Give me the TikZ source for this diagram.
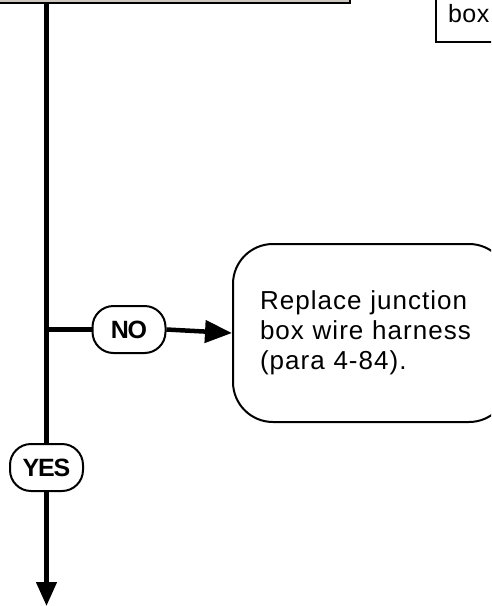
\documentclass[tikz,border=0pt]{standalone}
\usepackage{fontspec}
\setmainfont{Liberation Sans}
\usepackage{tikz}
\usetikzlibrary{arrows.meta}
\usetikzlibrary{positioning}

\definecolor{boxgray}{RGB}{204,200,192}

\begin{document}
\begin{tikzpicture}[
    x=1pt, y=-1pt,
    flow/.style={line width=4.5pt}, % Style for the main flow lines
    graybox/.style={draw, line width=2pt, fill=boxgray}, % Style for the step box above
    plainbox/.style={draw, line width=2pt, fill=white, align=left, font=\fontsize{25pt}{30pt}\selectfont\addfontfeature{LetterSpace=2}}, % Style for the box at the top right
    actbox/.style={draw, line width=2pt, fill=white, rounded corners=40pt, align=left,
        font=\fontsize{26pt}{30pt}\selectfont\addfontfeature{LetterSpace=4}}, % Style for the action box
    pill/.style={draw, line width=2pt, fill=white, rounded corners=21pt, minimum width=73pt,
        minimum height=47pt, inner sep=0pt, font=\fontsize{25pt}{28pt}\selectfont\bfseries\addfontfeature{LetterSpace=-5}} % Style for YES and NO
]

% Picture size
\useasboundingbox (0,0) rectangle (491,606);
\clip (0,0) rectangle (491,606);

% Boxes cut off at the top
\node[graybox, anchor=south east, minimum width=400pt, minimum height=60pt] (check) at (351,4) {};
\node[plainbox, anchor=south west, text width=60pt, inner xsep=12pt, inner ysep=20pt, text depth=0pt] (prev) at (435,43) {box};

% Decision labels and action
\node[pill] (yes) at (46.5,467.5) {YES};
\node[pill] (no) at (129,329.5) {NO};
\node[actbox, anchor=west, text width=222pt, inner xsep=27pt, minimum height=178pt] (repl) at (232,333)
    {Replace junction\\box wire harness\\(para 4-84).};

% Junction and end points on the main line
\coordinate (split) at (check.south -| yes.north);
\coordinate (fork) at (yes.north |- no.west);
\coordinate (down) at (46.5,606);

% Main line
\draw[flow] (split) -- (yes.north);
\draw[flow, -{Triangle[length=24pt,width=20pt]}] (yes.south) -- (down);

% NO branch
\draw[flow] (fork) -- (no.west);
\draw[flow, -{Triangle[length=27pt,width=22pt]}] (no.east) -- (repl.west);

\end{tikzpicture}
\end{document}
